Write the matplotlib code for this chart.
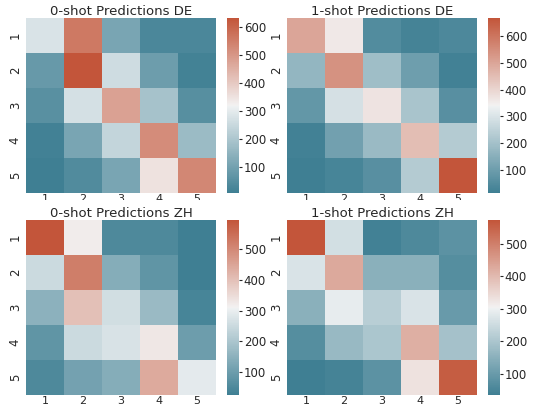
import numpy as np
import matplotlib
matplotlib.use("Agg")
import matplotlib.pyplot as plt
import seaborn as sns
from matplotlib.patches import Rectangle

labels = ["1", "2", "3", "4", "5"]
titles = ["0-shot Predictions DE", "1-shot Predictions DE",
          "0-shot Predictions ZH", "1-shot Predictions ZH"]

de_0shot = [[280, 560, 110, 30, 30],
            [80, 632, 260, 90, 15],
            [55, 270, 480, 190, 50],
            [12, 110, 240, 520, 170],
            [7, 40, 110, 350, 530]]
de_1shot = [[500, 360, 50, 25, 40],
            [170, 540, 190, 100, 20],
            [80, 290, 370, 210, 60],
            [20, 110, 180, 450, 230],
            [13, 30, 60, 230, 668]]
zh_0shot = [[595, 320, 50, 50, 25],
            [250, 520, 140, 80, 25],
            [150, 400, 260, 170, 40],
            [80, 250, 270, 330, 100],
            [50, 110, 140, 440, 290]]
zh_1shot = [[574, 260, 40, 60, 80],
            [270, 430, 150, 150, 70],
            [150, 290, 220, 270, 100],
            [70, 170, 200, 420, 190],
            [35, 45, 80, 330, 560]]

data = [de_0shot, de_1shot, zh_0shot, zh_1shot]

W, H = 537, 405
fig = plt.figure(figsize=(W / 100, H / 100), dpi=100)
cmap = sns.diverging_palette(220, 20, as_cmap=True)
txt = "#262626"

def box(x0, y0, x1, y1):
    return [x0 / W, 1 - y1 / H, (x1 - x0) / W, (y1 - y0) / H]

hm_x = [(26, 216), (287, 477)]
cb_x = [(227, 239), (488, 500)]
rows_y = [(18, 193), (220, 395)]

# white strip that clips the top row's x tick labels, as in the reference
fig.patches.append(Rectangle((0, 1 - 219 / H), 1, (219 - 200) / H,
                             transform=fig.transFigure, facecolor="white",
                             edgecolor="none", zorder=1))

for i, d in enumerate(data):
    r, c = divmod(i, 2)
    ax = fig.add_axes(box(hm_x[c][0], rows_y[r][0], hm_x[c][1], rows_y[r][1]))
    cax = fig.add_axes(box(cb_x[c][0], rows_y[r][0], cb_x[c][1], rows_y[r][1]))
    z = 2 if r == 1 else 0
    ax.set_zorder(z)
    cax.set_zorder(z)
    arr = np.array(d, dtype=float)
    sns.heatmap(arr, ax=ax, cbar_ax=cax, cmap=cmap,
                xticklabels=labels, yticklabels=labels)
    ax.set_title(titles[i], fontsize=9.5, color=txt, pad=2)
    ax.tick_params(axis="y", labelsize=8.5, colors=txt, length=0, pad=3)
    ax.tick_params(axis="x", labelsize=8, colors=txt, length=0, pad=0.5)
    plt.setp(ax.get_yticklabels(), rotation=90, va="center")
    plt.setp(ax.get_xticklabels(), rotation=0)
    cax.tick_params(labelsize=8.5, colors=txt, length=2.5, width=0.8, pad=1)
    for s in cax.spines.values():
        s.set_visible(False)

fig.savefig("out.png", dpi=100, facecolor="white")
